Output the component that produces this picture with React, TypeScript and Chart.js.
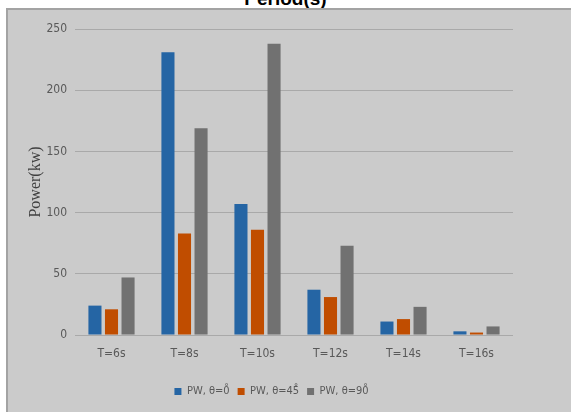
import React, { useEffect, useRef } from "react";
import { Chart, registerables } from "chart.js";

Chart.register(...registerables);

const categories = ["T=6s", "T=8s", "T=10s", "T=12s", "T=14s", "T=16s"];
const seriesNames = ["PW, θ=0\u030A", "PW, θ=45\u030A", "PW, θ=90\u030A"];
const pw0 = [24, 231, 107, 37, 11, 3];
const pw45 = [21, 83, 86, 31, 13, 2];
const pw90 = [47, 169, 238, 73, 23, 7];
const yTicks = [0, 50, 100, 150, 200, 250];
const colors = ["#2565a4", "#c04d00", "#717171"];

const narrow = "'Liberation Sans Narrow', 'DejaVu Sans Condensed', sans-serif";

export default function App() {
  const ref = useRef<HTMLCanvasElement>(null);
  useEffect(() => {
    if (!ref.current) return;
    const chart = new Chart(ref.current, {
      type: "bar",
      data: {
        labels: categories,
        datasets: [pw0, pw45, pw90].map((d, i) => ({
          label: seriesNames[i],
          data: d,
          backgroundColor: colors[i],
          borderWidth: 0,
          categoryPercentage: 0.68,
          barPercentage: 0.79,
        })),
      },
      options: {
        animation: false,
        responsive: false,
        devicePixelRatio: 1,
        layout: { padding: { top: 19, right: 58, bottom: 5, left: 22 } },
        plugins: {
          tooltip: { enabled: false },
          title: { display: false },
          legend: {
            position: "bottom",
            labels: {
              boxWidth: 7,
              boxHeight: 7,
              padding: 8,
              color: "#595959",
              font: { family: narrow, size: 11 },
            },
          },
        },
        scales: {
          x: {
            grid: { display: false, drawTicks: false },
            border: { display: false },
            ticks: { color: "#595959", padding: 12, font: { family: narrow, size: 12 } },
            afterFit: (s: any) => { s.height = 43; },
          },
          y: {
            min: 0,
            max: 250,
            afterBuildTicks: (s: any) => { s.ticks = yTicks.map((v) => ({ value: v })); },
            grid: { color: "#a9a9a9", lineWidth: 1, drawTicks: false },
            border: { display: false },
            ticks: { color: "#595959", padding: 8, font: { family: narrow, size: 12 } },
            title: {
              display: true,
              text: "Power(kw)",
              color: "#404040",
              font: { family: "'Liberation Serif', 'DejaVu Serif', serif", size: 16 },
              padding: { top: -4, bottom: 0 },
            },
            afterFit: (s: any) => { s.width = 45; },
          },
        },
      },
    });
    return () => chart.destroy();
  }, []);

  return (
    <div style={{ position: "fixed", left: 0, top: 0, width: 571, height: 412, background: "#fff", overflow: "hidden" }}>
      <div
        style={{
          position: "absolute", left: 0, top: -11, width: 571, textAlign: "center",
          font: "bold 19px 'Liberation Sans', Arial, sans-serif", lineHeight: "19px", color: "#000",
        }}
      >
        Period(s)
      </div>
      <div
        style={{
          position: "absolute", left: 6, top: 8, width: 620, height: 460, background: "#cbcbcb",
          borderLeft: "2px solid #a3a3a3", borderTop: "2px solid #a3a3a3",
        }}
      >
        <canvas ref={ref} width={563} height={402} style={{ display: "block" }} />
      </div>
    </div>
  );
}
